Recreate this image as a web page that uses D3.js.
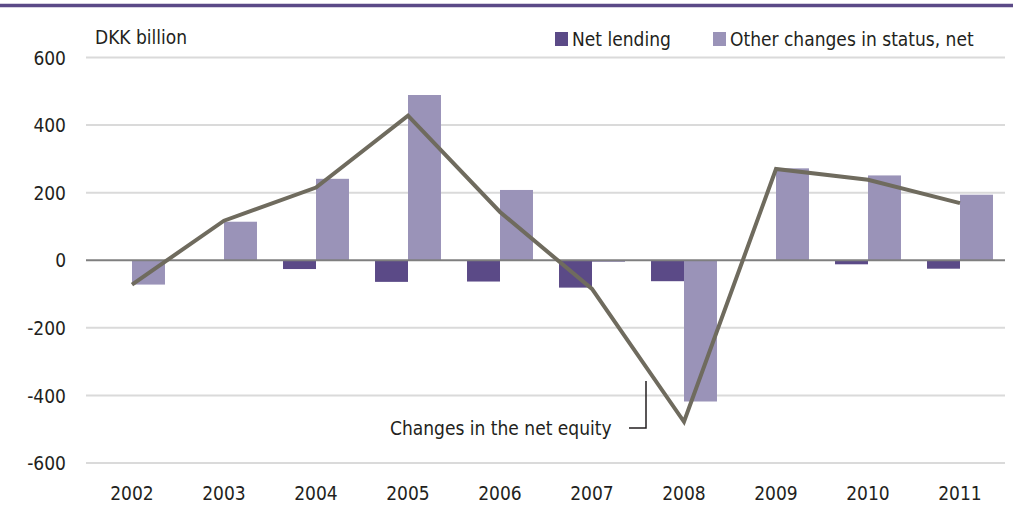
<!DOCTYPE html>
<html>
<head>
<meta charset="utf-8">
<script src="https://cdn.jsdelivr.net/npm/d3@7"></script>
<style>
    body { margin: 0; background: #fff; }
    svg text { font-family: "Liberation Sans Narrow", "DejaVu Sans Condensed", sans-serif; fill: #231f20; }
</style>
</head>
<body>
<div id="chart"></div>
<script>
    // chart data
    const years = ["2002", "2003", "2004", "2005", "2006", "2007", "2008", "2009", "2010", "2011"];
    const netLending = [-1, -1, -26, -64, -63, -81, -62, 0, -12, -25];
    const otherChanges = [-72, 114, 241, 489, 208, -5, -418, 272, 251, 194];
    const netEquity = [-72, 117, 215, 428, 143, -85, -478, 270, 238, 169];
    const yTicks = [-600, -400, -200, 0, 200, 400, 600];
    const seriesNames = ["Net lending", "Other changes in status, net"];

    const width = 1013;
    const height = 524;
    const colors = ["#5b4a87", "#9a93b8"];
    const lineColor = "#6f6b5e";

    const svg = d3.select("#chart").append("svg")
        .attr("width", width)
        .attr("height", height);

    // top rule
    svg.append("line")
        .attr("x1", 0).attr("x2", width)
        .attr("y1", 5.5).attr("y2", 5.5)
        .attr("stroke", "#5b4a87")
        .attr("stroke-width", 3.5);

    const x0 = d3.scaleBand()
        .domain(years)
        .range([86, 1006])
        .paddingInner(0.283)
        .paddingOuter(0.1415);

    const x1 = d3.scaleBand()
        .domain([0, 1])
        .range([0, x0.bandwidth()]);

    const y = d3.scaleLinear()
        .domain([-600, 600])
        .range([463, 57.5]);

    // gridlines
    svg.append("g")
        .selectAll("line")
        .data(yTicks.filter(function (d) { return d !== 0; }))
        .enter().append("line")
        .attr("x1", 86).attr("x2", 1005)
        .attr("y1", function (d) { return y(d); })
        .attr("y2", function (d) { return y(d); })
        .attr("stroke", "#dadada")
        .attr("stroke-width", 2);

    // y axis labels (plain hyphen for negatives, as in the source)
    const yAxis = d3.axisLeft(y)
        .tickValues(yTicks)
        .tickFormat(function (d) { return String(d); })
        .tickSize(0).tickPadding(0);
    const yg = svg.append("g")
        .attr("transform", "translate(66,0)")
        .call(yAxis);
    yg.select(".domain").remove();
    yg.selectAll("text")
        .style("font-size", "19px")
        .attr("fill", "#231f20")
        .attr("dy", "0.35em");

    // bars
    const groups = svg.append("g")
        .selectAll("g")
        .data(years)
        .enter().append("g")
        .attr("transform", function (d) { return "translate(" + x0(d) + ",0)"; });

    groups.selectAll("rect")
        .data(function (d, i) { return [netLending[i], otherChanges[i]]; })
        .enter().append("rect")
        .attr("x", function (d, j) { return x1(j); })
        .attr("width", x1.bandwidth())
        .attr("y", function (d) { return y(Math.max(0, d)); })
        .attr("height", function (d) { return Math.abs(y(d) - y(0)); })
        .attr("fill", function (d, j) { return colors[j]; });

    // zero line
    svg.append("line")
        .attr("x1", 86).attr("x2", 1005)
        .attr("y1", y(0)).attr("y2", y(0))
        .attr("stroke", "#7f7f7f")
        .attr("stroke-width", 2);

    // net equity line
    const line = d3.line()
        .x(function (d, i) { return x0(years[i]) + x0.bandwidth() / 2; })
        .y(function (d) { return y(d); });

    svg.append("path")
        .datum(netEquity)
        .attr("d", line)
        .attr("fill", "none")
        .attr("stroke", lineColor)
        .attr("stroke-width", 4)
        .attr("stroke-linejoin", "miter");

    // x axis labels
    const xAxis = d3.axisBottom(x0).tickSize(0).tickPadding(0);
    const xg = svg.append("g")
        .attr("transform", "translate(0,486)")
        .call(xAxis);
    xg.select(".domain").remove();
    xg.selectAll("text")
        .style("font-size", "19px")
        .attr("fill", "#231f20")
        .attr("dy", "0.71em");

    // unit label
    svg.append("text")
        .attr("x", 95).attr("y", 44)
        .style("font-size", "19px")
        .text("DKK billion");

    // legend
    const legendX = [555, 713];
    seriesNames.forEach(function (name, i) {
        svg.append("rect")
            .attr("x", legendX[i]).attr("y", 32)
            .attr("width", 13).attr("height", 14)
            .attr("fill", colors[i]);
        svg.append("text")
            .attr("x", legendX[i] + 17).attr("y", 46)
            .style("font-size", "19px")
            .text(name);
    });

    // annotation for the line
    svg.append("text")
        .attr("x", 390).attr("y", 435)
        .style("font-size", "19px")
        .text("Changes in the net equity");
    svg.append("path")
        .attr("d", "M629,428H646V381")
        .attr("fill", "none")
        .attr("stroke", "#231f20")
        .attr("stroke-width", 1.5);
</script>
</body>
</html>
